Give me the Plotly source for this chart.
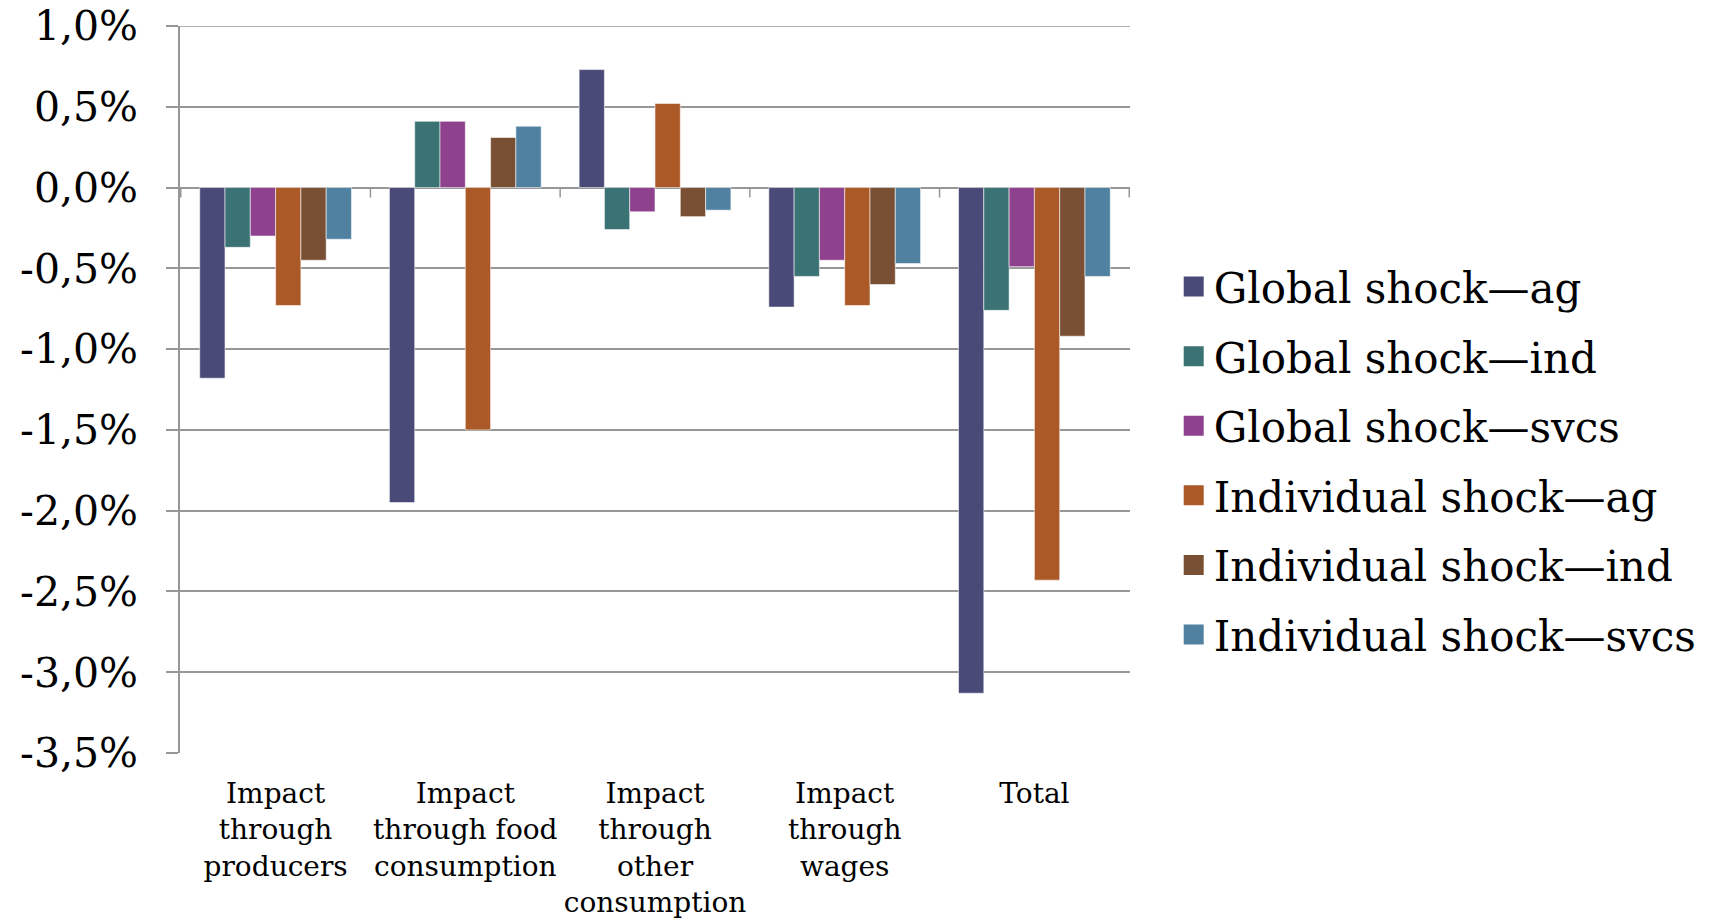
import plotly.graph_objects as go

# Categories (x axis) and series values in percent
categories = [
    "Impact<br>through<br>producers",
    "Impact<br>through food<br>consumption",
    "Impact<br>through<br>other<br>consumption",
    "Impact<br>through<br>wages",
    "Total",
]

global_ag = [-1.18, -1.95, 0.73, -0.74, -3.13]
global_ind = [-0.37, 0.41, -0.26, -0.55, -0.76]
global_svcs = [-0.30, 0.41, -0.15, -0.45, -0.49]
indiv_ag = [-0.73, -1.50, 0.52, -0.73, -2.43]
indiv_ind = [-0.45, 0.31, -0.18, -0.60, -0.92]
indiv_svcs = [-0.32, 0.38, -0.14, -0.47, -0.55]

series_names = [
    "Global shock\u2014ag",
    "Global shock\u2014ind",
    "Global shock\u2014svcs",
    "Individual shock\u2014ag",
    "Individual shock\u2014ind",
    "Individual shock\u2014svcs",
]
series_values = [global_ag, global_ind, global_svcs, indiv_ag, indiv_ind, indiv_svcs]
series_colors = ["#4a4a78", "#3b7274", "#8e418c", "#ab5927", "#7a5034", "#5181a1"]

y_tickvals = [1.0, 0.5, 0.0, -0.5, -1.0, -1.5, -2.0, -2.5, -3.0, -3.5]
y_ticktext = ["1,0%", "0,5%", "0,0%", "-0,5%", "-1,0%", "-1,5%", "-2,0%", "-2,5%", "-3,0%", "-3,5%"]

FONT = "DejaVu Serif"
GRID = "#979797"

fig = go.Figure()
for i, (name, vals, col) in enumerate(zip(series_names, series_values, series_colors)):
    fig.add_trace(go.Bar(
        x=categories, y=vals, name=name,
        legendgroup=f"g{i}", showlegend=False,
        marker=dict(color=col, line=dict(color="rgba(255,255,255,0.55)", width=1)),
    ))
    # legend key: large square swatch in the series colour
    fig.add_trace(go.Scatter(
        x=[None], y=[None], mode="markers", name=name,
        legendgroup=f"g{i}", showlegend=True, hoverinfo="skip",
        marker=dict(symbol="square", size=16, color=col, line=dict(color=col, width=4)),
    ))

# top gridline and small tick marks on the zero line at category boundaries
shapes = [dict(
    type="line", xref="paper", yref="y", x0=0, x1=1, y0=y_tickvals[0], y1=y_tickvals[0],
    line=dict(color=GRID, width=1.5), layer="below",
)]
for k in range(len(categories) + 1):
    shapes.append(dict(
        type="line", xref="x", yref="y", ysizemode="pixel", yanchor=0,
        x0=k - 0.5, x1=k - 0.5, y0=0, y1=-10,
        line=dict(color=GRID, width=1.5),
    ))

fig.update_layout(
    width=1709, height=919,
    margin=dict(l=180, r=579, t=26, b=166, autoexpand=False),
    paper_bgcolor="white", plot_bgcolor="white",
    barmode="group", bargap=0.2, bargroupgap=0,
    font=dict(family=FONT, color="black"),
    shapes=shapes,
    legend=dict(
        x=1.046, xanchor="left", y=0.402, yanchor="middle",
        font=dict(family=FONT, size=42, color="black"),
        tracegroupgap=12, traceorder="grouped", itemsizing="trace",
        bgcolor="rgba(0,0,0,0)",
    ),
    xaxis=dict(
        type="category", showgrid=False, showline=False, zeroline=False,
        ticks="", tickfont=dict(family=FONT, size=28, color="black"),
        ticklabelstandoff=21, automargin=False,
    ),
    yaxis=dict(
        range=[-3.5, 1.0], tickvals=y_tickvals, ticktext=y_ticktext,
        showgrid=True, gridcolor=GRID, gridwidth=1.5,
        zeroline=True, zerolinecolor=GRID, zerolinewidth=1.5,
        showline=True, linecolor=GRID, linewidth=1.5,
        ticks="outside", ticklen=12, tickcolor=GRID, tickwidth=1.5,
        tickfont=dict(family=FONT, size=41, color="black"),
        ticklabelstandoff=20, automargin=False,
    ),
)

fig.write_html("out.html")
